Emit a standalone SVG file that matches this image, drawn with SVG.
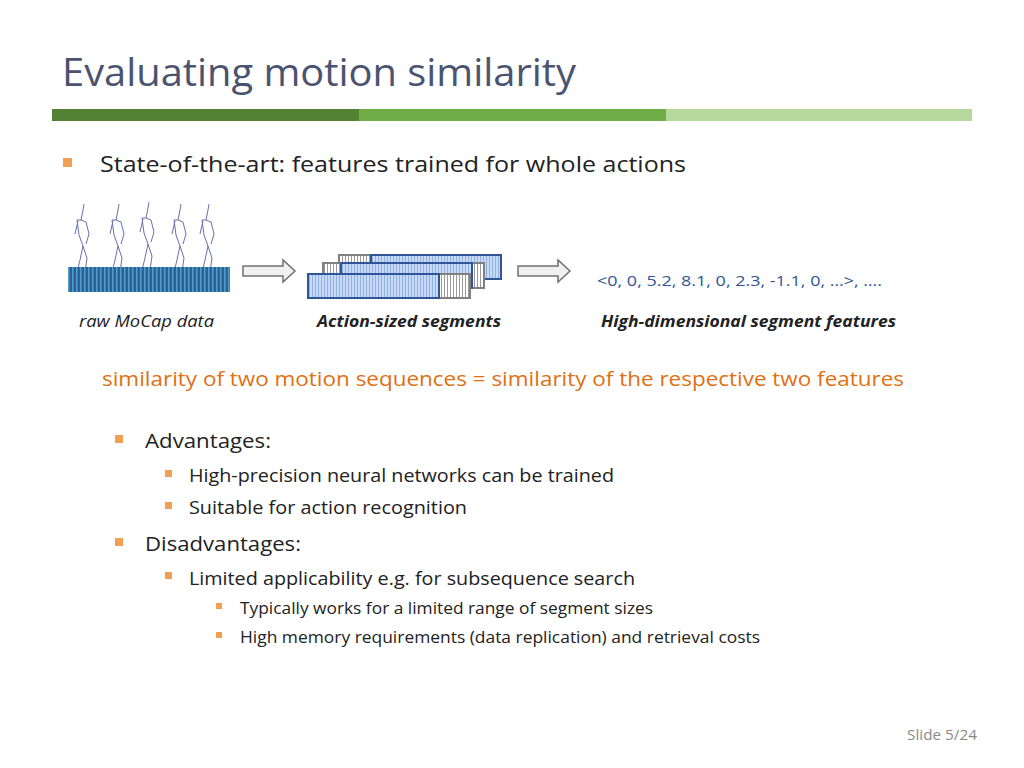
<svg xmlns="http://www.w3.org/2000/svg" width="1024" height="768" viewBox="0 0 1024 768">
<defs>
<pattern id="raw" width="4" height="10" patternUnits="userSpaceOnUse"><rect width="4" height="10" fill="#2f5f9e"/><rect width="1.5" height="10" fill="#4f9fc0"/></pattern>
<pattern id="blu" width="3" height="10" patternUnits="userSpaceOnUse"><rect width="3" height="10" fill="#c9daf6"/><rect width="1" height="10" fill="#8fb0e4"/></pattern>
<pattern id="gry" width="3" height="10" patternUnits="userSpaceOnUse"><rect width="3" height="10" fill="#ffffff"/><rect width="1" height="10" fill="#9a9a9a"/></pattern>
<g id="fig"><path d="M0,0 L-2,10 L-6,10 L-4,25 L0,36 L-3,50 L-6,62 L-1,66 M0,36 L4,48 L2,62 L7,66 M-2,10 L3,12 L6,24 L3,34 M-5,11 L-8,24 M0,0 L1,-6" fill="none" stroke="#6a6fae" stroke-width="1"/></g>
</defs>
<style>
.t{font-family:"Open Sans","Liberation Sans",sans-serif}
.bul{fill:#f0a050}
.bl{fill:url(#blu);stroke:#2f5597;stroke-width:2}
.gr{fill:url(#gry);stroke:#808080;stroke-width:2}
.arr{fill:#f0f0f0;stroke:#707070;stroke-width:1.5}
</style>
<rect width="1024" height="768" fill="#fff"/>
<text class="t" x="62" y="86" font-size="39" fill="#4a5470" textLength="514" lengthAdjust="spacingAndGlyphs">Evaluating motion similarity</text>
<rect x="52" y="109" width="307" height="12" fill="#548235"/>
<rect x="359" y="109" width="307" height="12" fill="#70ad47"/>
<rect x="666" y="109" width="306" height="12" fill="#b6d89a"/>
<rect class="bul" x="63" y="158" width="9" height="9"/>
<text class="t" x="100" y="172" font-size="22" fill="#222" textLength="586" lengthAdjust="spacingAndGlyphs">State-of-the-art: features trained for whole actions</text>
<g id="raw-data">
<use href="#fig" x="83" y="210"/><use href="#fig" x="118" y="210"/><use href="#fig" x="148" y="208"/><use href="#fig" x="180" y="210"/><use href="#fig" x="208" y="210"/>
<rect x="68" y="267" width="162" height="25" fill="url(#raw)"/>
</g>
<g id="segments">
<rect class="gr" x="339" y="255" width="32" height="24"/><rect class="bl" x="371" y="255" width="130" height="24"/>
<rect class="gr" x="323" y="263" width="161" height="25"/><rect class="bl" x="341" y="263" width="131" height="25"/>
<rect class="gr" x="439" y="274" width="31" height="24"/><rect class="bl" x="308" y="274" width="131" height="24"/>
</g>
<g id="connectors">
<path class="arr" d="M243,266 H283 V260 L295,271 L283,282 V276 H243 Z"/>
<path class="arr" d="M518,266 H558 V260 L570,271 L558,282 V276 H518 Z"/>
</g>
<text class="t" x="597" y="286" font-size="15" fill="#2f5597" textLength="285" lengthAdjust="spacingAndGlyphs">&lt;0, 0, 5.2, 8.1, 0, 2.3, -1.1, 0, …&gt;, ….</text>
<text class="t" x="79" y="327" font-size="16" font-style="italic" fill="#222" textLength="135" lengthAdjust="spacingAndGlyphs">raw MoCap data</text>
<text class="t" x="317" y="327" font-size="16" font-style="italic" font-weight="bold" fill="#222" textLength="184" lengthAdjust="spacingAndGlyphs">Action-sized segments</text>
<text class="t" x="601" y="327" font-size="16" font-style="italic" font-weight="bold" fill="#222" textLength="295" lengthAdjust="spacingAndGlyphs">High-dimensional segment features</text>
<text class="t" x="102" y="386" font-size="20" fill="#e07010" textLength="802" lengthAdjust="spacingAndGlyphs">similarity of two motion sequences = similarity of the respective two features</text>
<rect class="bul" x="115" y="435" width="8" height="8"/>
<text class="t" x="145" y="448" font-size="20" fill="#222" textLength="126" lengthAdjust="spacingAndGlyphs">Advantages:</text>
<rect class="bul" x="165" y="470" width="7" height="7"/>
<text class="t" x="189" y="482" font-size="18" fill="#222" textLength="425" lengthAdjust="spacingAndGlyphs">High-precision neural networks can be trained</text>
<rect class="bul" x="165" y="502" width="7" height="7"/>
<text class="t" x="189" y="514" font-size="18" fill="#222" textLength="278" lengthAdjust="spacingAndGlyphs">Suitable for action recognition</text>
<rect class="bul" x="115" y="538" width="8" height="8"/>
<text class="t" x="145" y="551" font-size="20" fill="#222" textLength="156" lengthAdjust="spacingAndGlyphs">Disadvantages:</text>
<rect class="bul" x="165" y="572" width="7" height="7"/>
<text class="t" x="189" y="585" font-size="18" fill="#222" textLength="446" lengthAdjust="spacingAndGlyphs">Limited applicability e.g. for subsequence search</text>
<rect class="bul" x="216" y="603" width="6" height="6"/>
<text class="t" x="240" y="614" font-size="16" fill="#222" textLength="413" lengthAdjust="spacingAndGlyphs">Typically works for a limited range of segment sizes</text>
<rect class="bul" x="216" y="632" width="6" height="6"/>
<text class="t" x="240" y="643" font-size="16" fill="#222" textLength="520" lengthAdjust="spacingAndGlyphs">High memory requirements (data replication) and retrieval costs</text>
<text class="t" x="907" y="740" font-size="14" fill="#888" textLength="70" lengthAdjust="spacingAndGlyphs">Slide 5/24</text>
</svg>
